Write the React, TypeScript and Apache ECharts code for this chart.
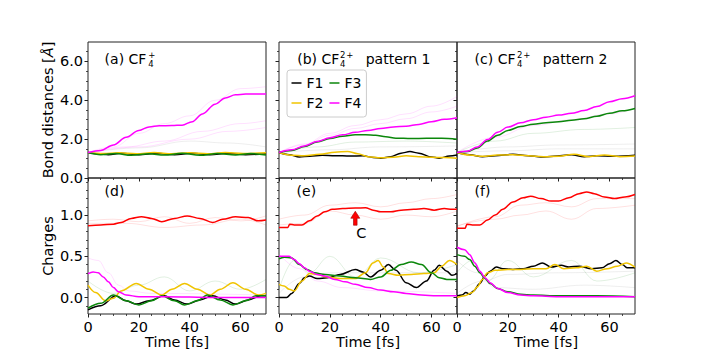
import React, { useEffect, useRef } from 'react';
import * as echarts from 'echarts';

const FONT = 'DejaVu Sans';
const TIME_MIN = 0;
const TIME_MAX = 70;
const TIME_MAJOR = [0, 20, 40, 60];
const TIME_MINOR = [5, 10, 15, 25, 30, 35, 45, 50, 55, 65];
const DIST_MAJOR = [0, 2, 4, 6];
const DIST_MINOR = [0.5, 1, 1.5, 2.5, 3, 3.5, 4.5, 5, 5.5, 6.5];
const CHG_MAJOR = [0, 0.5, 1.0];
const CHG_MINOR = [-0.1, 0.1, 0.2, 0.3, 0.4, 0.6, 0.7, 0.8, 0.9, 1.1, 1.2, 1.3, 1.4];
const LEGEND_ORDER = ['F1', 'F3', 'F2', 'F4'];

// ---- (a) CF4+ bond distances ----
const a_F1 = [[0,1.31],[4,1.24],[8,1.2],[13,1.27],[20,1.2],[27,1.27],[34,1.2],[41,1.28],[48,1.2],[55,1.27],[62,1.2],[70,1.25]];
const a_F2 = [[0,1.31],[6,1.26],[12,1.3],[19,1.25],[26,1.31],[33,1.25],[40,1.3],[47,1.25],[54,1.31],[61,1.26],[70,1.3]];
const a_F3 = [[0,1.31],[5,1.2],[11,1.26],[17,1.17],[24,1.25],[30,1.18],[37,1.27],[44,1.17],[51,1.26],[58,1.19],[64,1.26],[70,1.18]];
const a_F4 = [[0,1.31],[5,1.42],[10,1.7],[15,2.1],[20,2.45],[24,2.63],[28,2.69],[33,2.7],[37,2.72],[41,2.9],[45,3.3],[50,3.8],[54,4.12],[58,4.28],[62,4.32],[70,4.32]];
const a_bgMag1 = [[0,1.31],[10,1.6],[20,2.3],[30,2.8],[40,3.2],[50,4.0],[60,4.6],[70,4.7]];
const a_bgMag2 = [[0,1.31],[15,1.6],[30,1.9],[45,2.4],[60,2.8],[70,2.95]];
const a_bgMag3 = [[0,1.31],[20,1.6],[40,2.0],[55,2.4],[70,2.6]];
const a_bgGray = [[0,1.31],[20,1.55],[40,1.9],[55,1.8],[70,1.6]];

// ---- (b) CF4 2+ pattern 1 ----
const b_F1 = [[0,1.31],[4,1.2],[8,1.08],[12,1.12],[17,1.17],[22,1.15],[28,1.13],[33,1.14],[37,1.06],[40,1.02],[44,1.1],[48,1.28],[51.5,1.36],[55,1.28],[60,1.08],[63,1.02],[67,1.13],[70,1.18]];
const b_F2 = [[0,1.31],[5,1.17],[10,1.15],[16,1.22],[22,1.33],[27,1.37],[31,1.25],[35,1.1],[40,1.04],[45,1.07],[50,1.14],[55,1.1],[60,1.07],[65,1.05],[70,1.02]];
const b_F3 = [[0,1.31],[5,1.42],[10,1.62],[15,1.85],[20,2.03],[25,2.15],[30,2.22],[34,2.23],[38,2.2],[42,2.12],[46,2.05],[52,2.03],[58,2.04],[64,2.05],[70,2.0]];
const b_F4 = [[0,1.31],[5,1.45],[10,1.65],[15,1.88],[20,2.07],[25,2.22],[30,2.35],[35,2.45],[40,2.55],[45,2.62],[50,2.67],[55,2.76],[60,2.9],[65,3.02],[70,3.1]];
const b_bgMag1 = [[0,1.31],[10,1.75],[20,2.3],[30,2.7],[40,3.0],[50,3.3],[60,3.7],[70,4.2]];
const b_bgMag2 = [[0,1.31],[10,1.7],[20,2.2],[30,2.55],[40,2.8],[50,3.05],[60,3.4],[70,3.7]];
const b_bgGreen = [[0,1.31],[15,1.6],[30,1.85],[50,1.9],[70,1.8]];
const b_bgGray = [[0,1.31],[20,1.45],[40,1.6],[70,1.65]];

// ---- (c) CF4 2+ pattern 2 ----
const c_F1 = [[0,1.31],[5,1.2],[10,1.1],[15,1.15],[22,1.22],[28,1.15],[33,1.08],[38,1.12],[45,1.2],[50,1.1],[55,1.15],[62,1.12],[70,1.17]];
const c_F2 = [[0,1.31],[5,1.18],[10,1.12],[16,1.18],[22,1.2],[28,1.15],[34,1.1],[40,1.12],[46,1.22],[52,1.1],[58,1.18],[64,1.1],[70,1.13]];
const c_F3 = [[0,1.31],[4,1.36],[8,1.55],[12,1.9],[16,2.2],[20,2.45],[25,2.65],[30,2.77],[35,2.85],[40,2.9],[45,2.97],[50,3.05],[55,3.18],[60,3.33],[65,3.46],[70,3.58]];
const c_F4 = [[0,1.31],[4,1.38],[8,1.6],[12,1.98],[16,2.35],[20,2.62],[25,2.84],[30,3.0],[35,3.13],[40,3.24],[45,3.33],[50,3.47],[55,3.68],[60,3.93],[65,4.08],[70,4.23]];
const c_bgMag = [[0,1.31],[15,2.1],[30,2.7],[45,3.0],[60,3.3],[70,3.6]];
const c_bgGreen = [[0,1.31],[15,1.9],[30,2.3],[50,2.5],[70,2.6]];
const c_bgGray1 = [[0,1.31],[20,1.6],[40,1.7],[70,1.75]];
const c_bgGray2 = [[0,1.31],[20,1.4],[40,1.5],[70,1.5]];

// ---- (d) CF4+ charges ----
const d_C = [[0,0.87],[5,0.88],[10,0.89],[13,0.91],[17,0.96],[21,0.98],[25,0.96],[29,0.92],[34,0.96],[39,0.99],[44,0.96],[49,0.91],[53,0.95],[58,0.98],[63,0.97],[67,0.93],[70,0.94]];
const d_F1 = [[0,-0.15],[5,-0.1],[11,0.02],[15,-0.04],[19,-0.08],[24,-0.04],[30,0.02],[34,-0.03],[39,-0.08],[44,-0.03],[49,0.02],[54,-0.03],[58,-0.08],[63,-0.03],[68,0.02],[70,0.02]];
const d_F2 = [[0,0.15],[3,0.06],[7,-0.04],[10,-0.01],[13,0.08],[19,0.17],[24,0.1],[29,0.03],[33,0.1],[38,0.17],[43,0.1],[48,0.03],[52,0.1],[57,0.18],[62,0.1],[67,0.03],[70,0.05]];
const d_F3 = [[0,-0.13],[5,-0.07],[10,0.03],[15,-0.04],[20,-0.09],[25,-0.04],[29,0.02],[34,-0.04],[38,-0.09],[43,-0.04],[47,0.03],[52,-0.03],[57,-0.09],[62,-0.04],[66,0.02],[70,0.02]];
const d_F4 = [[0,0.29],[2,0.31],[4,0.3],[6,0.25],[8,0.19],[10,0.12],[12,0.07],[15,0.03],[20,0.01],[30,0.01],[50,0.0],[70,0.0]];
const d_bgRed1 = [[0,0.93],[10,0.95],[20,0.92],[30,0.98],[40,0.9],[50,0.97],[60,0.93],[70,0.99]];
const d_bgRed2 = [[0,0.9],[15,0.9],[30,0.85],[45,0.88],[60,0.95],[70,0.88]];
const d_bgMag = [[0,0.48],[4,0.45],[8,0.3],[12,0.15],[16,0.08],[25,0.05],[70,0.03]];
const d_bgGreen = [[0,0.2],[10,0.05],[20,0.15],[30,0.25],[40,0.08],[50,0.2],[60,0.1],[70,0.22]];

// ---- (e) pattern 1 charges ----
const e_C = [[0,0.85],[3.5,0.85],[4.2,0.89],[6,0.88],[9,0.88],[12,0.93],[15,0.99],[18,1.04],[21,1.07],[25,1.08],[30,1.085],[34,1.09],[37,1.06],[40,1.04],[44,1.04],[48,1.06],[53,1.07],[57,1.08],[61,1.06],[65,1.08],[68,1.07],[70,1.07]];
const e_F1 = [[0,0.0],[3,0.0],[5,0.05],[8,0.17],[10,0.24],[12,0.26],[15,0.23],[19,0.24],[24,0.28],[30,0.34],[33,0.31],[36,0.25],[40,0.33],[43,0.4],[46,0.33],[50,0.18],[54,0.12],[58,0.2],[61,0.33],[63,0.39],[66,0.32],[68,0.27],[70,0.29]];
const e_F2 = [[0,0.16],[2,0.14],[4,0.1],[6,0.08],[9,0.2],[12,0.29],[15,0.28],[19,0.25],[24,0.23],[30,0.23],[34,0.3],[37,0.42],[39,0.45],[41,0.37],[43,0.29],[47,0.27],[52,0.28],[57,0.29],[61,0.3],[64,0.38],[67,0.45],[70,0.4]];
const e_F3 = [[0,0.47],[2,0.49],[5,0.48],[8,0.4],[11,0.34],[14,0.3],[18,0.28],[24,0.26],[30,0.24],[36,0.22],[40,0.25],[44,0.33],[48,0.4],[52,0.43],[56,0.4],[60,0.3],[63,0.24],[66,0.22],[70,0.22]];
const e_F4 = [[0,0.5],[4,0.5],[6,0.46],[8,0.41],[10,0.36],[12,0.32],[15,0.28],[18,0.26],[22,0.22],[26,0.19],[30,0.16],[35,0.12],[40,0.09],[45,0.07],[50,0.05],[56,0.03],[62,0.02],[70,0.02]];
const e_bgRed1 = [[0,0.95],[10,1.0],[20,1.12],[30,1.15],[40,1.1],[50,1.15],[60,1.2],[70,1.25]];
const e_bgRed2 = [[0,0.88],[10,0.9],[20,1.05],[30,1.0],[40,0.95],[50,1.0],[60,0.98],[70,1.05]];
const e_bgMag = [[0,0.53],[8,0.35],[15,0.2],[25,0.12],[40,0.08],[70,0.05]];
const e_bgGreen = [[0,0.1],[6,0.45],[12,0.3],[20,0.5],[30,0.25],[40,0.48],[55,0.3],[70,0.4]];
const e_bgGray = [[0,0.05],[10,0.25],[20,0.3],[40,0.3],[70,0.3]];
const ARROW_C = { t: 30, q: 0.962, label: 'C' };

// ---- (f) pattern 2 charges ----
const f_C = [[0,0.84],[3.2,0.84],[3.9,0.89],[6,0.88],[9,0.88],[12,0.94],[15,1.0],[18,1.07],[22,1.16],[26,1.21],[29,1.23],[33,1.2],[37,1.17],[40,1.17],[44,1.21],[48,1.26],[51,1.28],[54,1.26],[58,1.22],[62,1.2],[66,1.22],[70,1.25]];
const f_F1 = [[0,0.02],[2,0.03],[3.5,0.06],[5,0.04],[6.5,0.08],[9,0.17],[11,0.26],[13,0.32],[15.5,0.37],[18,0.35],[22,0.34],[26,0.35],[30,0.38],[33.5,0.42],[37,0.37],[41,0.39],[44,0.37],[48,0.38],[53,0.35],[57,0.36],[60,0.41],[62.5,0.45],[65,0.4],[67,0.36],[70,0.36]];
const f_F2 = [[0,0.0],[3,0.02],[6,0.06],[8,0.13],[10,0.22],[12,0.3],[15,0.33],[20,0.34],[25,0.34],[30,0.35],[35,0.35],[38.5,0.4],[42,0.35],[47,0.36],[51,0.38],[55,0.32],[59,0.35],[63,0.38],[66.5,0.42],[70,0.37]];
const f_F3 = [[0,0.52],[3,0.5],[5,0.46],[7,0.38],[9,0.3],[11,0.23],[13,0.17],[16,0.11],[20,0.07],[25,0.04],[30,0.03],[40,0.02],[55,0.02],[70,0.01]];
const f_F4 = [[0,0.61],[3,0.58],[5,0.52],[7,0.42],[9,0.32],[11,0.24],[13,0.18],[16,0.11],[20,0.06],[25,0.03],[30,0.02],[40,0.01],[70,0.01]];
const f_bgRed1 = [[0,0.86],[15,0.98],[25,1.12],[35,1.15],[45,1.1],[55,1.2],[70,1.2]];
const f_bgRed2 = [[0,0.87],[15,0.95],[25,1.0],[35,1.05],[45,0.95],[55,1.08],[70,1.12]];
const f_bgGreen = [[0,0.3],[6,0.45],[12,0.2],[20,0.45],[30,0.25],[45,0.45],[55,0.2],[70,0.3]];
const f_bgGray1 = [[0,0.05],[10,0.2],[20,0.28],[40,0.3],[70,0.32]];
const f_bgGray2 = [[0,0.45],[8,0.3],[15,0.12],[30,0.1],[50,0.15],[70,0.12]];

const COL = { F1: '#000000', F2: '#f0c400', F3: '#0b870b', F4: '#ff00ff', C: '#ff0000', gray: '#777777' };

const GRID_W = 178, GRID_H = 136;
const GRIDS = [
  { left: 88, top: 42 }, { left: 279, top: 42 }, { left: 457, top: 42 },
  { left: 88, top: 178 }, { left: 279, top: 178 }, { left: 457, top: 178 },
];

const tickStyle = { color: '#222', width: 1 };
const labelStyle = { fontSize: 14.5, fontFamily: FONT, color: '#000' };

function makeX(gi: number) {
  const bottom = gi >= 3;
  return [
    {
      type: 'value', gridIndex: gi, position: 'bottom', min: TIME_MIN, max: TIME_MAX,
      axisLine: { show: false, onZero: false }, splitLine: { show: false },
      axisTick: { show: true, customValues: TIME_MAJOR, length: 3.5, lineStyle: tickStyle },
      axisLabel: { show: bottom, customValues: TIME_MAJOR, margin: 5, ...labelStyle },
      name: bottom ? 'Time [fs]' : '', nameLocation: 'middle', nameGap: 20, nameTextStyle: labelStyle,
    },
    {
      type: 'value', gridIndex: gi, position: 'bottom', min: TIME_MIN, max: TIME_MAX,
      axisLine: { show: false, onZero: false }, splitLine: { show: false }, axisLabel: { show: false },
      axisTick: { show: true, customValues: TIME_MINOR, length: 2, lineStyle: { color: '#222', width: 0.8 } },
    },
  ];
}

function makeY(gi: number) {
  const top = gi < 3;
  const first = gi % 3 === 0;
  const major = top ? DIST_MAJOR : CHG_MAJOR;
  const minor = top ? DIST_MINOR : CHG_MINOR;
  const min = top ? 0 : -0.2;
  const max = top ? 7 : 1.45;
  const name = !first ? '' : top ? '{n|Bond distances [}{i|Å}{n|]}' : 'Charges';
  return [
    {
      type: 'value', gridIndex: gi, position: 'left', min, max,
      axisLine: { show: false, onZero: false }, splitLine: { show: false },
      axisTick: { show: true, customValues: major, length: 3.5, lineStyle: tickStyle },
      axisLabel: { show: first, customValues: major, margin: 5, formatter: (v: number) => v.toFixed(1), ...labelStyle },
      name, nameLocation: 'middle', nameGap: 33, nameRotate: 90,
      nameTextStyle: { ...labelStyle, rich: { n: { ...labelStyle }, i: { ...labelStyle, fontStyle: 'italic' } } },
    },
    {
      type: 'value', gridIndex: gi, position: 'left', min, max,
      axisLine: { show: false, onZero: false }, splitLine: { show: false }, axisLabel: { show: false },
      axisTick: { show: true, customValues: minor, length: 2, lineStyle: { color: '#222', width: 0.8 } },
    },
  ];
}

function line(gi: number, name: string, data: number[][], color: string, extra: any = {}) {
  return {
    type: 'line', name, xAxisIndex: 2 * gi, yAxisIndex: 2 * gi, data,
    showSymbol: false, symbol: 'none', smooth: 0.35, smoothMonotone: 'x',
    lineStyle: { color, width: 1.5 }, itemStyle: { color }, z: 3, silent: true, ...extra,
  };
}
function faint(gi: number, data: number[][], color: string) {
  return {
    type: 'line', name: 'bg', xAxisIndex: 2 * gi, yAxisIndex: 2 * gi, data,
    showSymbol: false, symbol: 'none', smooth: 0.4, smoothMonotone: 'x',
    lineStyle: { color, width: 1, opacity: 0.12 }, z: 1, silent: true,
  };
}

const series: any[] = [
  faint(0, a_bgMag1, COL.F4), faint(0, a_bgMag2, COL.F4), faint(0, a_bgMag3, COL.F4), faint(0, a_bgGray, COL.gray),
  line(0, 'F1', a_F1, COL.F1), line(0, 'F2', a_F2, COL.F2), line(0, 'F3', a_F3, COL.F3), line(0, 'F4', a_F4, COL.F4),
  faint(1, b_bgMag1, COL.F4), faint(1, b_bgMag2, COL.F4), faint(1, b_bgGreen, COL.F3), faint(1, b_bgGray, COL.gray),
  line(1, 'F1', b_F1, COL.F1), line(1, 'F2', b_F2, COL.F2), line(1, 'F3', b_F3, COL.F3), line(1, 'F4', b_F4, COL.F4),
  faint(2, c_bgMag, COL.F4), faint(2, c_bgGreen, COL.F3), faint(2, c_bgGray1, COL.gray), faint(2, c_bgGray2, COL.gray),
  line(2, 'F1', c_F1, COL.F1), line(2, 'F2', c_F2, COL.F2), line(2, 'F3', c_F3, COL.F3), line(2, 'F4', c_F4, COL.F4),
  faint(3, d_bgRed1, COL.C), faint(3, d_bgRed2, COL.C), faint(3, d_bgMag, COL.F4), faint(3, d_bgGreen, COL.F3),
  line(3, 'C', d_C, COL.C), line(3, 'F1', d_F1, COL.F1), line(3, 'F2', d_F2, COL.F2), line(3, 'F3', d_F3, COL.F3), line(3, 'F4', d_F4, COL.F4),
  faint(4, e_bgRed1, COL.C), faint(4, e_bgRed2, COL.C), faint(4, e_bgMag, COL.F4), faint(4, e_bgGreen, COL.F3), faint(4, e_bgGray, COL.gray),
  line(4, 'C', e_C, COL.C, {
    markPoint: {
      silent: true,
      data: [{
        coord: [ARROW_C.t, ARROW_C.q],
        symbol: 'path://M5 0 L10 9 L7 9 L7 18 L3 18 L3 9 L0 9 Z',
        symbolSize: [9, 14],
        itemStyle: { color: '#ff0000', borderColor: '#a00000', borderWidth: 0.6 },
        label: { show: true, formatter: ARROW_C.label, position: 'bottom', distance: 0, offset: [6, 0], ...labelStyle },
      }],
    },
  }),
  line(4, 'F1', e_F1, COL.F1), line(4, 'F2', e_F2, COL.F2), line(4, 'F3', e_F3, COL.F3), line(4, 'F4', e_F4, COL.F4),
  faint(5, f_bgRed1, COL.C), faint(5, f_bgRed2, COL.C), faint(5, f_bgGreen, COL.F3), faint(5, f_bgGray1, COL.gray), faint(5, f_bgGray2, COL.gray),
  line(5, 'C', f_C, COL.C), line(5, 'F1', f_F1, COL.F1), line(5, 'F2', f_F2, COL.F2), line(5, 'F3', f_F3, COL.F3), line(5, 'F4', f_F4, COL.F4),
];

function txt(text: string, x: number, y: number, size = 14, lineHeight?: number) {
  return {
    type: 'text', x, y, z: 10,
    style: { text, fontSize: size, fontFamily: FONT, fill: '#000', align: 'left', verticalAlign: 'middle', lineHeight },
  };
}

const graphic = [
  txt('(a) CF', 104.6, 59), txt('+\n4', 148.2, 59.4, 8.5, 8.7),
  txt('(b) CF', 297.2, 59), txt('2\n4', 340, 59.4, 8.5, 8.7), txt('+', 346.3, 55.2, 8.5), txt('pattern 1', 365.7, 59),
  txt('(c) CF', 474.6, 59), txt('2\n4', 517, 59.4, 8.5, 8.7), txt('+', 523.3, 55.2, 8.5), txt('pattern 2', 542.7, 59),
  txt('(d)', 104.6, 191), txt('(e)', 296.6, 191), txt('(f)', 474.6, 191),
];

const option: any = {
  animation: false,
  backgroundColor: '#ffffff',
  grid: GRIDS.map((g) => ({ left: g.left, top: g.top, width: GRID_W, height: GRID_H, show: true, borderColor: '#222', borderWidth: 1, backgroundColor: 'transparent' })),
  xAxis: GRIDS.flatMap((_, i) => makeX(i)),
  yAxis: GRIDS.flatMap((_, i) => makeY(i)),
  legend: {
    data: LEGEND_ORDER, left: 287, top: 70, width: 72, orient: 'horizontal',
    icon: 'rect', itemWidth: 10, itemHeight: 1.5, itemGap: 6, padding: [6, 5, 7, 4.5],
    backgroundColor: 'rgba(255,255,255,0.85)', borderColor: '#cccccc', borderWidth: 1, borderRadius: 3,
    selectedMode: false, textStyle: { fontSize: 14, fontFamily: FONT, color: '#000' },
  },
  graphic,
  series,
};

export default function App() {
  const ref = useRef<HTMLDivElement>(null);
  useEffect(() => {
    document.body.style.margin = '0';
    const chart = echarts.init(ref.current!, null, { renderer: 'svg' });
    chart.setOption(option);
    return () => chart.dispose();
  }, []);
  return <div ref={ref} style={{ width: 706, height: 353 }} />;
}
